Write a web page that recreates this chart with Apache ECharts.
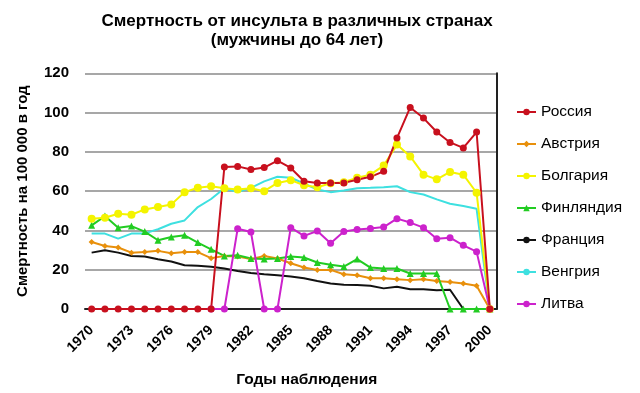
<!DOCTYPE html>
<html>
<head>
<meta charset="utf-8">
<script src="https://cdn.jsdelivr.net/npm/echarts@6/dist/echarts.min.js"></script>
<style>
html,body{margin:0;padding:0;background:#fff;}
#c{width:640px;height:393px;}
</style>
</head>
<body>
<div id="c"></div>
<script>
var years = [];
for (var y = 1970; y <= 2000; y++) years.push(String(y));

var seriesNames = ['Россия', 'Австрия', 'Болгария', 'Финляндия', 'Франция', 'Венгрия', 'Литва'];

var russia = [0,0,0,0,0,0,0,0,0,0, 72.3,72.6,71,72,75.5,71.8,65,64.2,64.2,64.2, 65.8,67.3,70.1,87,102.6,97.2,90.1,84.8,82,90.1, 0];
var austria = [34.1,32.1,31.3,28.7,29,29.6,28.4,29,29,25.9, 27,26.7,25.4,27,25.7,23.3,21.1,19.9,19.9,17.7, 17.2,15.7,15.7,15.2,14.7,15.2,14.3,13.8,13,11.8, 0];
var bulgaria = [46,46.5,48.5,48,50.7,51.9,53.2,59.5,61.7,62.5, 61.5,60.8,61.5,60,64.2,65.6,63,62,64,64.5, 66.8,68.4,73,83.7,77.7,68.4,66,69.8,68.4,59.2, 0];
var finland = [42.6,47.3,41.4,42.2,39.4,35,36.7,37.5,33.8,30.4, 27,27.4,25.7,25.4,25.7,26.7,26.2,23.7,22.5,21.6, 25.4,21.1,20.6,20.6,18.1,18.1,18.1,0,0,0, 0];
var france = [28.7,29.9,28.7,27,26.7,25.3,24.2,22.3,22,21.5, 20.6,19.4,18.3,17.7,17.2,16.6,15.7,14.3,13,12.3, 12.2,11.8,10.5,11.3,10.1,10.1,9.6,9.8,0,0, 0];
var hungary = [38.4,38.4,35.8,38.4,38.5,40.6,43.4,45.1,51.9,56, 61.5,59.5,61.7,65,67.3,66.8,63.9,60.8,59.5,60.3, 61.5,61.7,62,62.5,59.5,58.3,55.8,53.6,52.4,51, 0];
var lithuania = [null,null,null,null,null,null,null,null,null,0, 0,40.9,39.2,0,0,41.4,37.2,39.7,33.5,39.4, 40.5,41,41.7,46,44,41.4,35.8,36.3,32.4,29.2, 0];

var yTicks = [0, 20, 40, 60, 80, 100, 120];

var FONT = '"Liberation Sans", Arial, sans-serif';

function mk(name, data, color, symbol, size) {
  return {
    name: name, type: 'line', data: data,
    symbol: symbol, symbolSize: size, showSymbol: symbol !== 'none',
    lineStyle: { color: color, width: 2 },
    itemStyle: { color: color },
    connectNulls: false,
    animation: false
  };
}

var chart = echarts.init(document.getElementById('c'), null, { renderer: 'canvas' });
chart.setOption({
  backgroundColor: '#fff',
  animation: false,
  title: {
    text: 'Смертность от инсульта в различных странах\n(мужчины до 64 лет)',
    left: 292, top: 7, textAlign: 'center',
    textStyle: { fontFamily: FONT, fontSize: 17, fontWeight: 'bold', color: '#000', lineHeight: 19, align: 'center' }
  },
  legend: {
    orient: 'vertical', left: 511, top: 99,
    itemWidth: 19, itemHeight: 8, itemGap: 16,
    data: seriesNames,
    textStyle: { fontFamily: FONT, fontSize: 15.5, color: '#000' }
  },
  grid: { left: 85, right: 143.5, top: 73.3, bottom: 83 },
  xAxis: [{
    type: 'category', data: years, boundaryGap: true,
    name: 'Годы наблюдения', nameLocation: 'middle', nameGap: 63,
    nameTextStyle: { fontFamily: FONT, fontSize: 15.5, fontWeight: 'bold', color: '#000', padding: [0, 0, 0, 32] },
    axisLine: { show: false }, axisTick: { show: false },
    axisLabel: { interval: 2, rotate: 45, margin: 19, fontFamily: FONT, fontSize: 14, fontWeight: 'bold', color: '#000' }
  }, {
    type: 'category', data: years, position: 'top', boundaryGap: true,
    axisLine: { show: true, lineStyle: { color: '#222', width: 2 } },
    axisTick: { show: false }, axisLabel: { show: false }
  }],
  yAxis: [{
    type: 'value', min: 0, max: 120, interval: 20,
    name: 'Смертность на 100 000 в год', nameLocation: 'middle', nameGap: 55,
    nameTextStyle: { fontFamily: FONT, fontSize: 15, fontWeight: 'bold', color: '#000' },
    axisLine: { show: false }, axisTick: { show: false },
    axisLabel: { margin: 16, fontFamily: FONT, fontSize: 15, fontWeight: 'bold', color: '#000',
      formatter: function (v) { return yTicks.indexOf(v) >= 0 ? String(v) : ''; } },
    splitLine: { show: true, lineStyle: { color: '#8a8a8a', width: 1.5 } }
  }, {
    type: 'value', min: 0, max: 120, interval: 20, position: 'right',
    axisLine: { show: true, lineStyle: { color: '#222', width: 2 } },
    axisTick: { show: false }, axisLabel: { show: false }, splitLine: { show: false }
  }],
  series: [
    mk('Венгрия', hungary, '#3ee0e0', 'none', 0),
    mk('Франция', france, '#111111', 'none', 0),
    mk('Австрия', austria, '#e8900c', 'diamond', 6),
    mk('Финляндия', finland, '#22cc22', 'triangle', 7),
    mk('Болгария', bulgaria, '#f4f400', 'circle', 8),
    mk('Литва', lithuania, '#cc22cc', 'circle', 7),
    mk('Россия', russia, '#c8101e', 'circle', 7)
  ]
});
</script>
</body>
</html>
